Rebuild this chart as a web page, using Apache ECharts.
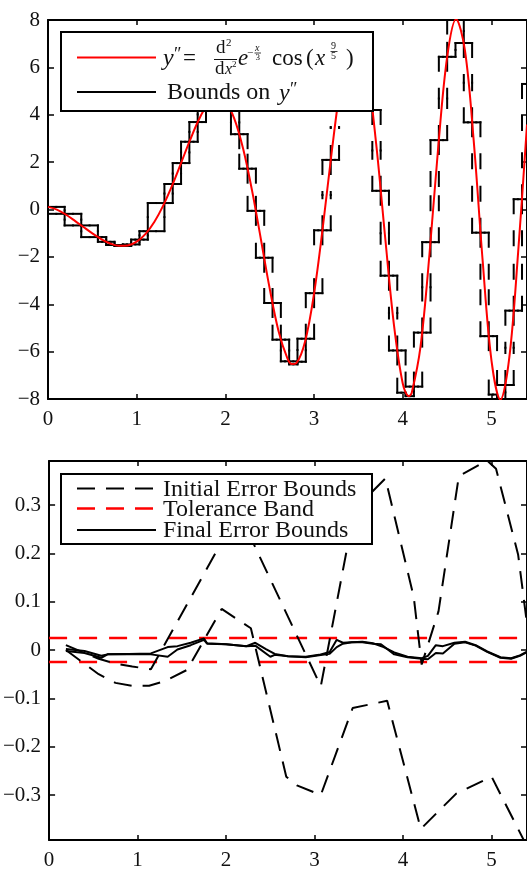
<!DOCTYPE html>
<html><head><meta charset="utf-8">
<script src="https://cdn.jsdelivr.net/npm/echarts@6/dist/echarts.min.js"></script>
<style>html,body{margin:0;padding:0;background:#fff}#c{width:527px;height:871px}</style>
</head><body><div id="c"></div>
<script>
// ---------- top panel: y'' curve ----------
const curveX = [0,0.1,0.2,0.3,0.4,0.5,0.6,0.7,0.8,0.9,1.0,1.1,1.2,1.3,1.4,1.5,1.6,1.7,1.8,1.9,2.0,2.1,2.2,2.3,2.4,2.5,2.6,2.7,2.75,2.8,2.9,3.0,3.1,3.2,3.3,3.4,3.46,3.5,3.6,3.7,3.8,3.9,4.0,4.067,4.1,4.2,4.3,4.4,4.5,4.6,4.7,4.8,4.9,5.0,5.1,5.2,5.3,5.4];
const curveY = [0.11,-0.003,-0.212,-0.467,-0.740,-1.009,-1.249,-1.434,-1.534,-1.517,-1.356,-1.026,-0.514,0.176,1.018,1.960,2.917,3.789,4.433,4.729,4.556,3.838,2.563,0.807,-1.254,-3.353,-5.148,-6.292,-6.52,-6.482,-5.549,-3.532,-0.691,2.471,5.289,7.088,7.449,7.334,5.817,2.759,-1.139,-4.872,-7.359,-7.879,-7.748,-5.777,-1.911,2.669,6.445,8.034,6.727,2.867,-2.160,-6.390,-8.028,-6.268,-1.810,3.586];

// ---------- top panel: interval bounds on y'' ----------
const meshX = [0,0.1875,0.375,0.5625,0.65625,0.75,0.84375,0.9375,1.03125,1.125,1.3125,1.40625,1.5,1.59375,1.6875,1.78125,1.875,1.96875,2.0625,2.15625,2.25,2.34375,2.4375,2.53125,2.625,2.71875,2.8125,2.90625,3.0,3.09375,3.1875,3.28125,3.375,3.46875,3.5625,3.65625,3.75,3.84375,3.9375,4.03125,4.125,4.21875,4.3125,4.40625,4.5,4.59375,4.6875,4.78125,4.875,4.96875,5.0625,5.15625,5.25,5.34375,5.4375];
const boundHi = [0.11,-0.183,-0.672,-1.165,-1.364,-1.499,-1.474,-1.271,-0.915,0.273,1.076,1.960,2.860,3.692,4.339,4.699,4.733,4.669,4.173,3.180,1.723,-0.057,-2.037,-3.946,-5.495,-6.409,-5.455,-3.532,-0.878,2.094,4.838,6.784,7.449,7.446,6.567,4.200,0.789,-2.793,-5.951,-7.476,-5.197,-1.378,2.929,6.445,8.020,8.037,7.030,3.680,-0.978,-5.346,-7.41,-4.27,0.435,5.3];
const boundLo = [-0.183,-0.672,-1.165,-1.364,-1.499,-1.542,-1.541,-1.474,-1.271,-0.915,0.273,1.076,1.960,2.860,3.692,4.339,4.669,4.173,3.180,1.723,-0.057,-2.037,-3.946,-5.495,-6.409,-6.537,-6.427,-5.455,-3.532,-0.878,2.094,4.838,6.784,6.567,4.200,0.789,-2.793,-5.951,-7.733,-7.879,-7.476,-5.197,-1.378,2.929,6.445,7.030,3.680,-0.978,-5.346,-7.812,-8.03,-7.41,-4.27,0.435];

// ---------- bottom panel: error bounds ----------
const initUpperX = [0.19,0.56,0.75,0.94,1.15,2.14,3.07,3.45,3.8,4.12,4.21,4.4,4.63,4.95,5.05,5.3,5.4375];
const initUpperY = [0.01,-0.018,-0.028,-0.034,-0.04,0.286,-0.075,0.29,0.355,0.11,-0.03,0.08,0.36,0.392,0.375,0.197,0.0];
const initLowerX = [0.19,0.56,0.75,0.94,1.13,1.31,1.56,1.95,2.28,2.68,2.8,3.07,3.43,3.82,4.2,4.6,5.0,5.4375];
const initLowerY = [0.0,-0.05,-0.068,-0.074,-0.074,-0.064,-0.041,0.085,0.045,-0.262,-0.28,-0.30,-0.12,-0.105,-0.37,-0.297,-0.262,-0.42];
const finalUpperX = [0.19,0.40,0.59,0.66,0.9,1.15,1.34,1.45,1.6,1.75,1.785,2.0,2.23,2.33,2.45,2.55,2.7,2.9,3.05,3.17,3.25,3.32,3.42,3.54,3.66,3.78,3.9,4.05,4.21,4.28,4.37,4.45,4.58,4.7,4.82,4.95,5.1,5.22,5.32,5.4375];
const finalUpperY = [0.002,-0.002,-0.012,-0.009,-0.008,-0.007,0.006,0.008,0.015,0.024,0.014,0.012,0.008,0.015,0.002,-0.008,-0.013,-0.014,-0.01,-0.004,0.021,0.015,0.016,0.017,0.014,0.006,-0.005,-0.014,-0.017,-0.012,0.010,0.008,0.015,0.017,0.01,-0.003,-0.015,-0.017,-0.011,0.0];
const finalLowerX = [0.19,0.40,0.59,0.66,0.9,1.15,1.34,1.45,1.6,1.75,1.785,2.0,2.23,2.33,2.5,2.55,2.7,2.9,3.05,3.17,3.25,3.32,3.42,3.54,3.66,3.75,3.9,4.05,4.21,4.28,4.37,4.45,4.58,4.7,4.82,4.95,5.1,5.22,5.32,5.4375];
const finalLowerY = [-0.002,-0.006,-0.016,-0.009,-0.008,-0.009,-0.014,0.001,0.01,0.021,0.013,0.012,0.008,0.009,-0.014,-0.01,-0.013,-0.015,-0.011,-0.008,0.006,0.013,0.016,0.016,0.013,0.012,-0.009,-0.015,-0.018,-0.019,-0.006,-0.007,0.013,0.016,0.009,-0.004,-0.016,-0.018,-0.012,-0.001];
const toleranceBand = [0.025, -0.025];

// ---------- ticks ----------
const xTicks = [0,1,2,3,4,5];
const yTicksTop = [-8,-6,-4,-2,0,2,4,6,8];
const yTicksBottom = [-0.3,-0.2,-0.1,0,0.1,0.2,0.3];

const zip = (xs, ys) => xs.map((x, i) => [x, ys[i]]);
const FONT = 'Liberation Serif';
const fmt = v => Math.abs(v) < 1e-9 ? '0' : (v < 0 ? '\u2212' : '') + String(Math.abs(v));

const boundItems = meshX.slice(0, -1).map((a, i) => [
  a, meshX[i + 1], boundLo[i], boundHi[i],
  i + 1 < boundLo.length ? boundLo[i + 1] : boundLo[i],
  i + 1 < boundHi.length ? boundHi[i + 1] : boundHi[i]
]);

function xAxisDef(grid, pos) {
  const main = pos === 'bottom';
  return {
    type: 'value', gridIndex: grid, position: pos, min: 0, max: 5.4,
    axisLine: { show: true, onZero: false, lineStyle: { color: '#000', width: 2 } },
    axisTick: { show: true, inside: true, length: 5, customValues: xTicks, lineStyle: { color: '#000', width: 1.5 } },
    axisLabel: { show: main, customValues: xTicks, color: '#111', fontFamily: FONT, fontSize: 21, margin: 10 },
    splitLine: { show: false }
  };
}
function yAxisDef(grid, pos, min, max, ticks) {
  const main = pos === 'left';
  return {
    type: 'value', gridIndex: grid, position: pos, min: min, max: max,
    axisLine: { show: true, onZero: false, lineStyle: { color: '#000', width: 2 } },
    axisTick: { show: true, inside: true, length: 6, customValues: ticks, lineStyle: { color: '#000', width: 1.5 } },
    axisLabel: { show: main, customValues: ticks, color: '#111', fontFamily: FONT, fontSize: 21, margin: 8, formatter: fmt },
    splitLine: { show: false }
  };
}

function renderBounds(params, api) {
  const a = api.value(0), b = api.value(1), lo = api.value(2), hi = api.value(3), loN = api.value(4), hiN = api.value(5);
  const out = [];
  const st = { stroke: '#000', lineWidth: 2, lineDash: [14, 18], lineCap: 'square', fill: null };
  function seg(p, q) {
    const m = [(p[0] + q[0]) / 2, (p[1] + q[1]) / 2];
    out.push({ type: 'line', shape: { x1: p[0], y1: p[1], x2: m[0], y2: m[1] }, style: st });
    out.push({ type: 'line', shape: { x1: q[0], y1: q[1], x2: m[0], y2: m[1] }, style: st });
  }
  const aH = api.coord([a, hi]), bH = api.coord([b, hi]);
  const aL = api.coord([a, lo]), bL = api.coord([b, lo]);
  seg(aH, bH); seg(aL, bL);
  seg(bH, api.coord([b, hiN]));
  seg(bL, api.coord([b, loN]));
  return { type: 'group', children: out };
}

// ---------- legends (graphic) ----------
const Z = 100;
function txt(t, x, y, size, italic) {
  return { type: 'text', z: Z + 2, style: {
    text: t, x: x, y: y, fill: '#111',
    font: (italic ? 'italic ' : '') + size + 'px "' + FONT + '"',
    align: 'left', verticalAlign: 'middle', textAlign: 'left', textVerticalAlign: 'middle'
  } };
}
function ln(x1, y1, x2, y2, color, w, dash) {
  return { type: 'line', z: Z + 1, shape: { x1, y1, x2, y2 },
    style: { stroke: color, lineWidth: w, lineDash: dash || null } };
}
const legendTop = [
  { type: 'rect', z: Z, shape: { x: 61, y: 32, width: 312, height: 79 }, style: { fill: '#fff', stroke: '#000', lineWidth: 2 } },
  ln(77, 57.5, 156, 57.5, '#ff0000', 2),
  ln(77, 92, 156, 92, '#000', 2),
  txt('y', 163, 59, 24, true),
  txt('\u2033', 174, 55, 18, false),
  txt('=', 183, 59, 23, false),
  txt('d', 216, 48, 19, false),
  txt('2', 226, 43, 11, false),
  ln(214, 59.5, 237, 59.5, '#111', 1),
  txt('d', 215, 69, 19, false),
  txt('x', 225, 70, 16, true),
  txt('2', 232, 65, 9, false),
  txt('e', 238, 59, 23, true),
  txt('\u2212', 247, 53, 11, false),
  txt('x', 255, 48, 10, true),
  ln(254.5, 53, 261, 53, '#111', 0.8),
  txt('3', 255.5, 57.5, 9, false),
  txt('cos', 272, 59, 23, false),
  txt('(', 306, 59, 23, false),
  txt('x', 315, 59, 23, true),
  txt('9', 331, 46.5, 10, false),
  ln(330.5, 51.5, 337.5, 51.5, '#111', 0.8),
  txt('5', 331, 56, 10, false),
  txt(')', 346, 59, 23, false),
  txt('Bounds on', 167, 93, 24, false),
  txt('y', 279, 94, 24, true),
  txt('\u2033', 290, 90, 18, false)
];
const legendBottom = [
  { type: 'rect', z: Z, shape: { x: 61, y: 474, width: 311, height: 70 }, style: { fill: '#fff', stroke: '#000', lineWidth: 2 } },
  ln(77, 488.5, 156, 488.5, '#000', 2, [18, 11]),
  ln(77, 508.5, 156, 508.5, '#ff0000', 2.5, [18, 11]),
  ln(77, 530, 156, 530, '#000', 2),
  txt('Initial Error Bounds', 163, 489.5, 24, false),
  txt('Tolerance Band', 163, 509.5, 24, false),
  txt('Final Error Bounds', 163, 530.5, 24, false)
];

const chart = echarts.init(document.getElementById('c'), null, { renderer: 'canvas' });
chart.setOption({
  animation: false,
  backgroundColor: '#fff',
  grid: [
    { left: 48, top: 20, width: 481, height: 379 },
    { left: 48, top: 461, width: 481, height: 379 }
  ],
  xAxis: [xAxisDef(0, 'bottom'), xAxisDef(0, 'top'), xAxisDef(1, 'bottom'), xAxisDef(1, 'top')],
  yAxis: [
    yAxisDef(0, 'left', -8, 8, yTicksTop), yAxisDef(0, 'right', -8, 8, yTicksTop),
    yAxisDef(1, 'left', -0.393, 0.391, yTicksBottom), yAxisDef(1, 'right', -0.393, 0.391, yTicksBottom)
  ],
  series: [
    { type: 'custom', name: 'Bounds on y\'\'', xAxisIndex: 0, yAxisIndex: 0, clip: true, z: 2, silent: true,
      data: boundItems, encode: { x: [0, 1], y: [2, 3, 4, 5] }, renderItem: renderBounds },
    { type: 'line', name: 'y\'\'', xAxisIndex: 0, yAxisIndex: 0, data: zip(curveX, curveY), smooth: 0.35,
      showSymbol: false, symbol: 'none', clip: true, z: 3, lineStyle: { color: '#ff0000', width: 2 } },

    { type: 'line', name: 'Tolerance Band', xAxisIndex: 2, yAxisIndex: 2, data: [[0, toleranceBand[0]], [5.4, toleranceBand[0]]],
      symbol: 'none', z: 2, lineStyle: { color: '#ff0000', width: 2.5, type: [18, 12] } },
    { type: 'line', name: 'Tolerance Band', xAxisIndex: 2, yAxisIndex: 2, data: [[0, toleranceBand[1]], [5.4, toleranceBand[1]]],
      symbol: 'none', z: 2, lineStyle: { color: '#ff0000', width: 2.5, type: [18, 12] } },
    { type: 'line', name: 'Initial Error Bounds', xAxisIndex: 2, yAxisIndex: 2, data: zip(initUpperX, initUpperY),
      symbol: 'none', clip: true, z: 3, lineStyle: { color: '#000', width: 2, type: [18, 11] } },
    { type: 'line', name: 'Initial Error Bounds', xAxisIndex: 2, yAxisIndex: 2, data: zip(initLowerX, initLowerY),
      symbol: 'none', clip: true, z: 3, lineStyle: { color: '#000', width: 2, type: [18, 11] } },
    { type: 'line', name: 'Final Error Bounds', xAxisIndex: 2, yAxisIndex: 2, data: zip(finalUpperX, finalUpperY),
      symbol: 'none', clip: true, z: 4, lineStyle: { color: '#000', width: 2 } },
    { type: 'line', name: 'Final Error Bounds', xAxisIndex: 2, yAxisIndex: 2, data: zip(finalLowerX, finalLowerY),
      symbol: 'none', clip: true, z: 4, lineStyle: { color: '#000', width: 2 } }
  ],
  graphic: { elements: legendTop.concat(legendBottom) }
});
</script></body></html>
